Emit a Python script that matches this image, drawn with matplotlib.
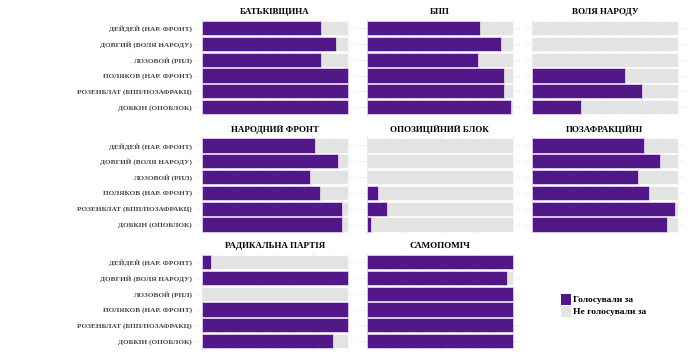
import numpy as np
import matplotlib
matplotlib.use("Agg")
import matplotlib.pyplot as plt
from matplotlib.patches import Patch

plt.rcParams['font.family'] = ['Liberation Serif', 'DejaVu Serif']
plt.rcParams['font.weight'] = 'bold'

deputies = ["ДЕЙДЕЙ (НАР. ФРОНТ)", "ДОВГИЙ (ВОЛЯ НАРОДУ)", "ЛОЗОВОЙ (РПЛ)",
            "ПОЛЯКОВ (НАР. ФРОНТ)", "РОЗЕНБЛАТ (БПП/ПОЗАФРАКЦ)", "ДОБКІН (ОПОБЛОК)"]

factions = ["БАТЬКІВЩИНА", "БПП", "ВОЛЯ НАРОДУ",
            "НАРОДНИЙ ФРОНТ", "ОПОЗИЦІЙНИЙ БЛОК", "ПОЗАФРАКЦІЙНІ",
            "РАДИКАЛЬНА ПАРТІЯ", "САМОПОМІЧ"]

# share of faction members who voted for each deputy (same order as deputies)
batkivshchyna = [0.815, 0.916, 0.815, 1.0, 1.0, 1.0]
bpp = [0.776, 0.918, 0.760, 0.943, 0.938, 0.990]
volia_narodu = [0.0, 0.0, 0.0, 0.638, 0.753, 0.334]
narodnyi_front = [0.771, 0.929, 0.737, 0.810, 0.961, 0.961]
opoblok = [0.0, 0.0, 0.0, 0.080, 0.141, 0.027]
pozafraktsiini = [0.766, 0.879, 0.725, 0.803, 0.977, 0.922]
radykalna = [0.059, 1.0, 0.0, 1.0, 1.0, 0.897]
samopomich = [1.0, 0.963, 1.0, 1.0, 1.0, 1.0]

values = [batkivshchyna, bpp, volia_narodu, narodnyi_front, opoblok,
          pozafraktsiini, radykalna, samopomich]

legend_labels = ["Голосували за", "Не голосували за"]

PURPLE = "#521888"
GREY = "#e3e3e3"

fig = plt.figure(figsize=(6.9, 3.58), dpi=100)
W, H = 690.0, 358.0

col_left = [194.7, 359.4, 524.7]
panel_w = 160.6
row_top = [18.6, 136.0, 252.6]
panel_h = 98.0

ypos = np.arange(len(deputies))[::-1]

for i, (name, vals) in enumerate(zip(factions, values)):
    r, c = divmod(i, 3)
    ax = fig.add_axes([col_left[c] / W, 1 - (row_top[r] + panel_h) / H,
                       panel_w / W, panel_h / H])
    vals = np.array(vals)
    ax.barh(ypos, vals, height=0.9, color=PURPLE, edgecolor="#eedcf5", linewidth=0.5, zorder=3)
    ax.barh(ypos, 1 - vals, left=vals, height=0.9, color=GREY, edgecolor="white", linewidth=0.5, zorder=2)
    ax.set_xlim(-0.05, 1.05)
    ax.set_ylim(-0.6, len(deputies) - 0.4)
    ax.set_xticks([0, 0.25, 0.5, 0.75, 1.0])
    ax.set_xticks([0.125, 0.375, 0.625, 0.875], minor=True)
    ax.grid(True, which="major", color="#ebebeb", linewidth=0.6, zorder=0)
    ax.grid(True, which="minor", axis="x", color="#f3f3f3", linewidth=0.4, zorder=0)
    ax.set_axisbelow(True)
    ax.set_yticks(ypos)
    ax.tick_params(length=0, labelbottom=False, pad=2)
    ax.tick_params(which="minor", length=0)
    if c == 0:
        ax.set_yticklabels(deputies, fontsize=5.2, color="#444444", fontweight="bold")
    else:
        ax.set_yticklabels([])
    for s in ax.spines.values():
        s.set_visible(False)
    ax.set_title(name, fontsize=6.5, fontweight="bold", color="black", pad=3)

handles = [Patch(facecolor=PURPLE, edgecolor="none"), Patch(facecolor=GREY, edgecolor="none")]
fig.legend(handles, legend_labels, loc="upper left", bbox_to_anchor=(556 / W, 1 - 289 / H),
           frameon=False, fontsize=6.8, handlelength=1.1, handleheight=1.4,
           handletextpad=0.2, labelspacing=0.12, borderpad=0)

fig.savefig("out.png", dpi=100)
